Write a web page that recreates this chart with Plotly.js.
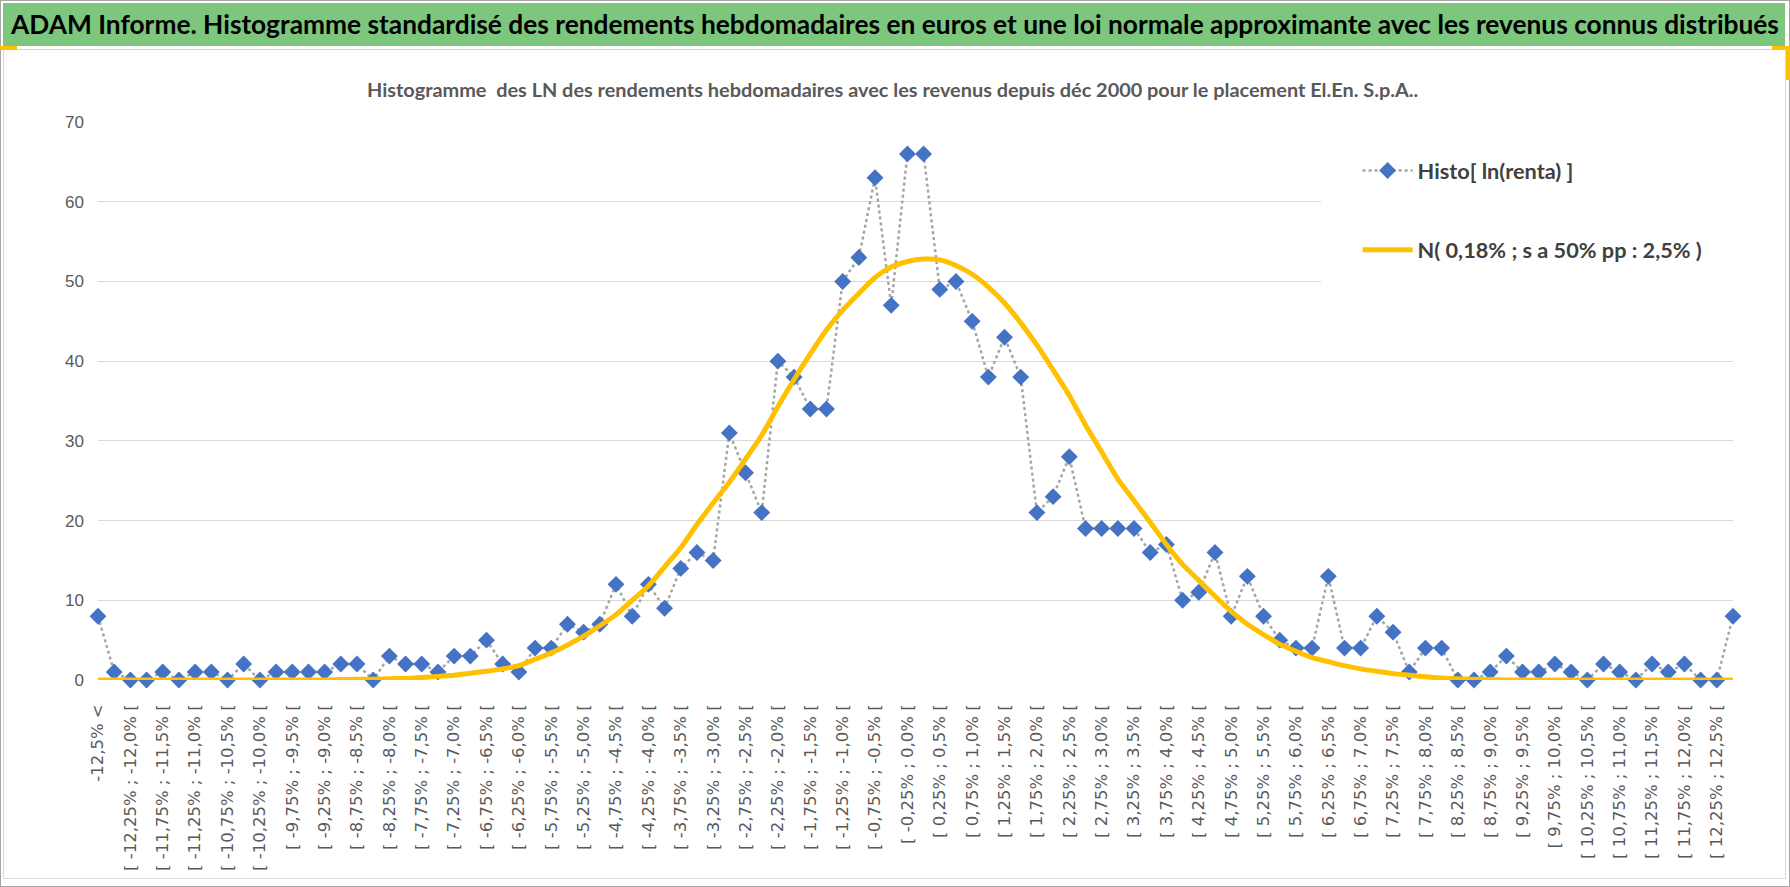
<!DOCTYPE html>
<html><head><meta charset="utf-8">
<script src="https://cdn.plot.ly/plotly-3.0.1.min.js"></script>
<style>
html,body{margin:0;padding:0;background:#fff;}
#wrap{position:relative;width:1790px;height:887px;overflow:hidden;}
#frame{position:absolute;left:0;top:0;width:1788px;height:885px;border:1px solid #a6a6a6;}
#banner{position:absolute;left:3px;top:3px;width:1782px;height:43px;background:#7dc67e;}
#sep{position:absolute;left:3px;top:49px;width:1782px;height:1px;background:#d0d0d0;}
#inner{position:absolute;left:3px;top:50px;width:1781px;height:828px;border:1px solid #d9d9d9;border-top:none;}
#ol{position:absolute;left:0;top:46px;width:17px;height:4px;background:#ffc000;}
#or{position:absolute;left:1772px;top:46px;width:18px;height:4px;background:#ffc000;}
#orv{position:absolute;left:1786px;top:46px;width:4px;height:34px;background:#ffc000;}
#chart{position:absolute;left:0;top:0;width:1790px;height:887px;}
</style>
</head><body>
<div id="wrap">
<div id="frame"></div><div id="banner"></div><div id="sep"></div><div id="inner"></div>
<div id="ol"></div><div id="or"></div><div id="orv"></div>
<div id="chart"></div>
</div>
<script>
const categories = [
"-12,5% <",
"[ -12,5% ; -12,25% [","[ -12,25% ; -12,0% [","[ -12,0% ; -11,75% [","[ -11,75% ; -11,5% [",
"[ -11,5% ; -11,25% [","[ -11,25% ; -11,0% [","[ -11,0% ; -10,75% [","[ -10,75% ; -10,5% [",
"[ -10,5% ; -10,25% [","[ -10,25% ; -10,0% [","[ -10,0% ; -9,75% [","[ -9,75% ; -9,5% [",
"[ -9,5% ; -9,25% [","[ -9,25% ; -9,0% [","[ -9,0% ; -8,75% [","[ -8,75% ; -8,5% [",
"[ -8,5% ; -8,25% [","[ -8,25% ; -8,0% [","[ -8,0% ; -7,75% [","[ -7,75% ; -7,5% [",
"[ -7,5% ; -7,25% [","[ -7,25% ; -7,0% [","[ -7,0% ; -6,75% [","[ -6,75% ; -6,5% [",
"[ -6,5% ; -6,25% [","[ -6,25% ; -6,0% [","[ -6,0% ; -5,75% [","[ -5,75% ; -5,5% [",
"[ -5,5% ; -5,25% [","[ -5,25% ; -5,0% [","[ -5,0% ; -4,75% [","[ -4,75% ; -4,5% [",
"[ -4,5% ; -4,25% [","[ -4,25% ; -4,0% [","[ -4,0% ; -3,75% [","[ -3,75% ; -3,5% [",
"[ -3,5% ; -3,25% [","[ -3,25% ; -3,0% [","[ -3,0% ; -2,75% [","[ -2,75% ; -2,5% [",
"[ -2,5% ; -2,25% [","[ -2,25% ; -2,0% [","[ -2,0% ; -1,75% [","[ -1,75% ; -1,5% [",
"[ -1,5% ; -1,25% [","[ -1,25% ; -1,0% [","[ -1,0% ; -0,75% [","[ -0,75% ; -0,5% [",
"[ -0,5% ; -0,25% [","[ -0,25% ; 0,0% [","[ 0,0% ; 0,25% [","[ 0,25% ; 0,5% [",
"[ 0,5% ; 0,75% [","[ 0,75% ; 1,0% [","[ 1,0% ; 1,25% [","[ 1,25% ; 1,5% [",
"[ 1,5% ; 1,75% [","[ 1,75% ; 2,0% [","[ 2,0% ; 2,25% [","[ 2,25% ; 2,5% [",
"[ 2,5% ; 2,75% [","[ 2,75% ; 3,0% [","[ 3,0% ; 3,25% [","[ 3,25% ; 3,5% [",
"[ 3,5% ; 3,75% [","[ 3,75% ; 4,0% [","[ 4,0% ; 4,25% [","[ 4,25% ; 4,5% [",
"[ 4,5% ; 4,75% [","[ 4,75% ; 5,0% [","[ 5,0% ; 5,25% [","[ 5,25% ; 5,5% [",
"[ 5,5% ; 5,75% [","[ 5,75% ; 6,0% [","[ 6,0% ; 6,25% [","[ 6,25% ; 6,5% [",
"[ 6,5% ; 6,75% [","[ 6,75% ; 7,0% [","[ 7,0% ; 7,25% [","[ 7,25% ; 7,5% [",
"[ 7,5% ; 7,75% [","[ 7,75% ; 8,0% [","[ 8,0% ; 8,25% [","[ 8,25% ; 8,5% [",
"[ 8,5% ; 8,75% [","[ 8,75% ; 9,0% [","[ 9,0% ; 9,25% [","[ 9,25% ; 9,5% [",
"[ 9,5% ; 9,75% [","[ 9,75% ; 10,0% [","[ 10,0% ; 10,25% [","[ 10,25% ; 10,5% [",
"[ 10,5% ; 10,75% [","[ 10,75% ; 11,0% [","[ 11,0% ; 11,25% [","[ 11,25% ; 11,5% [",
"[ 11,5% ; 11,75% [","[ 11,75% ; 12,0% [","[ 12,0% ; 12,25% [","[ 12,25% ; 12,5% [",
"12,5% <"
];

const histoValues = [
8,1,0,0,1,0,1,1,0,2,
0,1,1,1,1,2,2,0,3,2,
2,1,3,3,5,2,1,4,4,7,
6,7,12,8,12,9,14,16,15,31,
26,21,40,38,34,34,50,53,63,47,
66,66,49,50,45,38,43,38,21,23,
28,19,19,19,19,16,17,10,11,16,
8,13,8,5,4,4,13,4,4,8,
6,1,4,4,0,0,1,3,1,1,
2,1,0,2,1,0,2,1,2,0,
0,8
];

const normalValues = [
0,0,0,0,0,0,0,0,0,0,
0,0,0,0,0,0.05,0.08,0.1,0.15,0.2,
0.3,0.45,0.6,0.85,1.1,1.4,1.8,2.6,3.4,4.4,
5.5,6.8,8.2,10,11.8,14.2,16.6,19.5,22.2,24.8,
27.7,30.7,34.3,37.7,40.9,43.9,46.4,48.5,50.5,51.8,
52.5,52.8,52.7,52.0,50.9,49.3,47.3,44.8,42.0,38.9,
35.7,32.0,28.6,25.2,22.5,19.8,17.0,14.5,12.5,10.5,
8.6,7.0,5.7,4.5,3.6,2.8,2.3,1.8,1.4,1.1,
0.8,0.6,0.4,0.25,0.15,0.1,0.05,0,0,0,
0,0,0,0,0,0,0,0,0,0,
0,0
];

const seriesNames = ["Histo[ ln(renta) ]", "N( 0,18% ; s a 50% pp : 2,5% )"];
const mainTitle = "ADAM Informe. Histogramme standardisé des rendements hebdomadaires en euros et une loi normale approximante avec les revenus connus distribués";
const subTitle = "Histogramme&nbsp; des LN des rendements hebdomadaires avec les revenus depuis déc 2000 pour le placement El.En. S.p.A..";
const yTicks = [0,10,20,30,40,50,60,70];

const labelTicks = categories.filter((c,i)=> i%2===0);
const gridTicks = categories.map((c,i)=>i).filter(i=> i%4===0);

const HUM = "Lato, 'Open Sans', sans-serif";
const SANS = "'Liberation Sans', Arial, sans-serif";
const WIDE = "'DejaVu Sans', Verdana, sans-serif";

const traces = [
 {x: categories, y: histoValues, name: seriesNames[0], type:'scatter', mode:'lines+markers',
  line:{color:'#a5a5a5', width:2.5, dash:'dot'},
  marker:{symbol:'diamond', size:13, color:'#4472c4'},
  cliponaxis:false, legendgroup:'a'},
 {x: categories, y: normalValues, name: seriesNames[1], type:'scatter', mode:'lines',
  line:{color:'#ffc000', width:5, shape:'spline', smoothing:0.6},
  cliponaxis:false, legendgroup:'b'}
];

const layout = {
 width:1790, height:887,
 margin:{l:98, r:57, t:122, b:207},
 paper_bgcolor:'rgba(0,0,0,0)', plot_bgcolor:'rgba(0,0,0,0)',
 title:{text:mainTitle, x:0.5, xref:'container', xanchor:'center', y:1-25/887, yref:'container', yanchor:'middle',
        font:{family:HUM, size:26.3, color:'#000000', weight:'bold'}},
 xaxis:{type:'category', range:[0,101], tickmode:'array', tickvals:labelTicks, ticktext:labelTicks,
        tickangle:-90, ticks:'', showgrid:false, zeroline:false, showline:false,
        ticklabelstandoff:20, tickfont:{family:WIDE, size:16.5, color:'#595959'}},
 xaxis2:{overlaying:'x', anchor:'y', side:'bottom', range:[0,101], tickmode:'array', tickvals:gridTicks,
        showticklabels:false, ticks:'outside', ticklen:7, tickwidth:1.5, tickcolor:'#000',
        showgrid:true, gridcolor:'#d9d9d9', gridwidth:1, showline:true, linecolor:'#000', linewidth:1.5, zeroline:false},
 yaxis:{range:[0,70], tickmode:'array', tickvals:yTicks, showgrid:true, gridcolor:'#d9d9d9', gridwidth:1,
        zeroline:false, showline:false, ticks:'', ticklabelstandoff:13,
        tickfont:{family:SANS, size:17, color:'#595959'}},
 showlegend:true,
 legend:{x:0.7704, xanchor:'left', y:0.95, yanchor:'top', bgcolor:'rgba(0,0,0,0)', borderwidth:0,
         font:{family:HUM, size:21.7, color:'#404040', weight:'bold'}, itemwidth:50, tracegroupgap:48,
         traceorder:'grouped'},
 shapes:[{type:'rect', xref:'paper', yref:'paper', x0:0.748, x1:1.0, y0:(680-290)/558, y1:(680-130)/558,
          fillcolor:'#ffffff', line:{width:0}, layer:'above'}],
 annotations:[{text:subTitle, xref:'paper', yref:'paper', x:(892-98)/1635, y:(680-89)/558,
          xanchor:'center', yanchor:'middle', showarrow:false,
          font:{family:HUM, size:19.9, color:'#595959', weight:'bold'}}]
};

Plotly.newPlot('chart', traces, layout, {displayModeBar:false, responsive:false});
</script>
</body></html>
